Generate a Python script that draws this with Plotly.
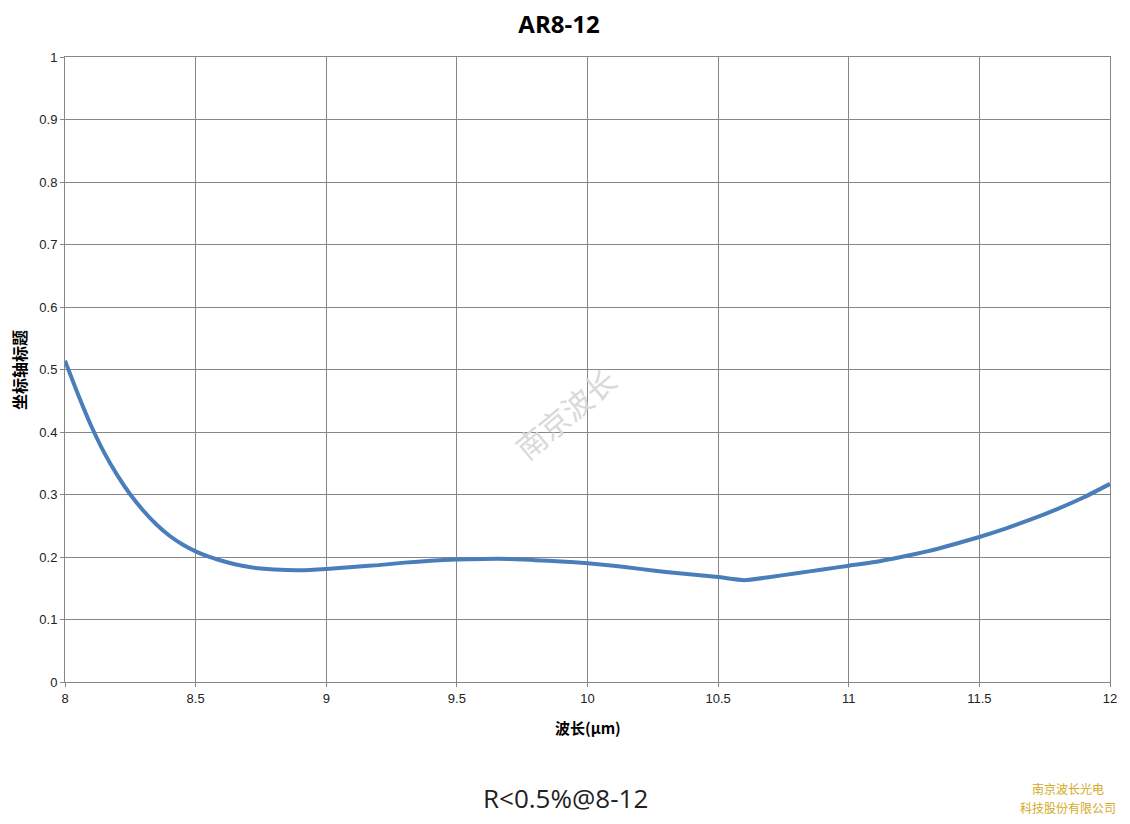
import plotly.graph_objects as go

# Data
wavelength = [8.00, 8.05, 8.10, 8.15, 8.20, 8.25, 8.30, 8.35, 8.40, 8.45, 8.50, 8.55, 8.60,
              8.65, 8.70, 8.75, 8.80, 8.90, 9.00, 9.10, 9.20, 9.30, 9.40, 9.50, 9.60,
              9.70, 9.80, 9.90, 10.00, 10.10, 10.20, 10.30, 10.40, 10.50, 10.60, 10.70,
              10.80, 10.90, 11.00, 11.10, 11.20, 11.30, 11.40, 11.50, 11.60, 11.70, 11.80,
              11.90, 12.00]
reflectance = [0.514, 0.460, 0.410, 0.367, 0.331, 0.300, 0.274, 0.252, 0.234, 0.220, 0.209,
               0.2005, 0.194, 0.1885, 0.1845, 0.1815, 0.1800, 0.179, 0.181, 0.184, 0.187,
               0.191, 0.194, 0.196, 0.197, 0.197, 0.195, 0.193, 0.190, 0.186, 0.181, 0.176,
               0.172, 0.168, 0.163, 0.168, 0.174, 0.180, 0.186, 0.192, 0.200, 0.209, 0.220,
               0.232, 0.2455, 0.2605, 0.277, 0.2955, 0.317]

x_ticks = [8, 8.5, 9, 9.5, 10, 10.5, 11, 11.5, 12]
x_tick_labels = ["8", "8.5", "9", "9.5", "10", "10.5", "11", "11.5", "12"]
y_ticks = [0, 0.1, 0.2, 0.3, 0.4, 0.5, 0.6, 0.7, 0.8, 0.9, 1]
y_tick_labels = ["0", "0.1", "0.2", "0.3", "0.4", "0.5", "0.6", "0.7", "0.8", "0.9", "1"]

chart_title = "AR8-12"
x_title = "波长(μm)"
y_title = "坐标轴标题"
note = "R<0.5%@8-12"
watermark = "南京波长"
company_line1 = "南京波长光电"
company_line2 = "科技股份有限公司"

grid_color = "#868686"
line_color = "#4A7EBB"
base_font = "Liberation Sans, Open Sans, sans-serif"
title_font = "Open Sans, Liberation Sans, sans-serif"
cjk_font = "Noto Sans CJK SC, sans-serif"

# page offset (body margin) and plot-area geometry
OFF = 8
W, H = 1114, 808
L, R, T, B = 57, 12, 49, 134
PW, PH = W - L - R, H - T - B


def px(sx):
    return (sx - OFF - L) / PW


def py(sy):
    return (H - B - (sy - OFF)) / PH


fig = go.Figure()
fig.add_trace(go.Scatter(
    x=wavelength, y=reflectance, mode="lines",
    line=dict(color=line_color, width=4, shape="spline", smoothing=0.5),
    showlegend=False, hoverinfo="x+y",
))

axis_common = dict(
    showgrid=True, gridcolor=grid_color, gridwidth=1,
    showline=True, linecolor=grid_color, linewidth=1, mirror=True,
    ticks="outside", ticklen=4, tickcolor=grid_color,
    zeroline=False, automargin=False,
    tickfont=dict(family=base_font, size=13, color="#222222"),
)

fig.update_layout(
    width=W, height=H,
    margin=dict(l=L, r=R, t=T, b=B),
    paper_bgcolor="white", plot_bgcolor="white",
    font=dict(family=base_font, size=13, color="#222222"),
    title=dict(text="<b>" + chart_title + "</b>", x=(559 - OFF) / W, xanchor="center",
               y=1 - (25 - OFF) / H, yanchor="middle",
               font=dict(family=title_font, size=24, color="#000000")),
    xaxis=dict(range=[8, 12], tickvals=x_ticks, ticktext=x_tick_labels, **axis_common),
    yaxis=dict(range=[0, 1], tickvals=y_ticks, ticktext=y_tick_labels, **axis_common),
)

# Axis titles
fig.add_annotation(text="<b>" + x_title + "</b>", xref="paper", yref="paper",
                   x=px(588), y=py(727), showarrow=False,
                   xanchor="center", yanchor="middle",
                   font=dict(family=cjk_font, size=15, color="#000000"))
fig.add_annotation(text="<b>" + y_title + "</b>", xref="paper", yref="paper",
                   x=px(19), y=py(370), showarrow=False,
                   textangle=-90, xanchor="center", yanchor="middle",
                   font=dict(family=cjk_font, size=16, color="#000000"))

# Watermark
fig.add_annotation(text=watermark, xref="paper", yref="paper",
                   x=px(565), y=py(413), showarrow=False,
                   textangle=-40, xanchor="center", yanchor="middle",
                   font=dict(family=cjk_font, size=30, color="#d9d9d9"))

# Bottom note
fig.add_annotation(text=note, xref="paper", yref="paper",
                   x=px(565), y=py(798), showarrow=False,
                   xanchor="center", yanchor="middle",
                   font=dict(family=title_font, size=26, color="#222222"))

# Company text
fig.add_annotation(text=company_line1, xref="paper", yref="paper",
                   x=px(1068), y=py(788), showarrow=False,
                   xanchor="center", yanchor="middle",
                   font=dict(family=cjk_font, size=12, color="#D4AA1E"))
fig.add_annotation(text=company_line2, xref="paper", yref="paper",
                   x=px(1068), y=py(807), showarrow=False,
                   xanchor="center", yanchor="middle",
                   font=dict(family=cjk_font, size=12, color="#D4AA1E"))

fig.write_html("out.html")
